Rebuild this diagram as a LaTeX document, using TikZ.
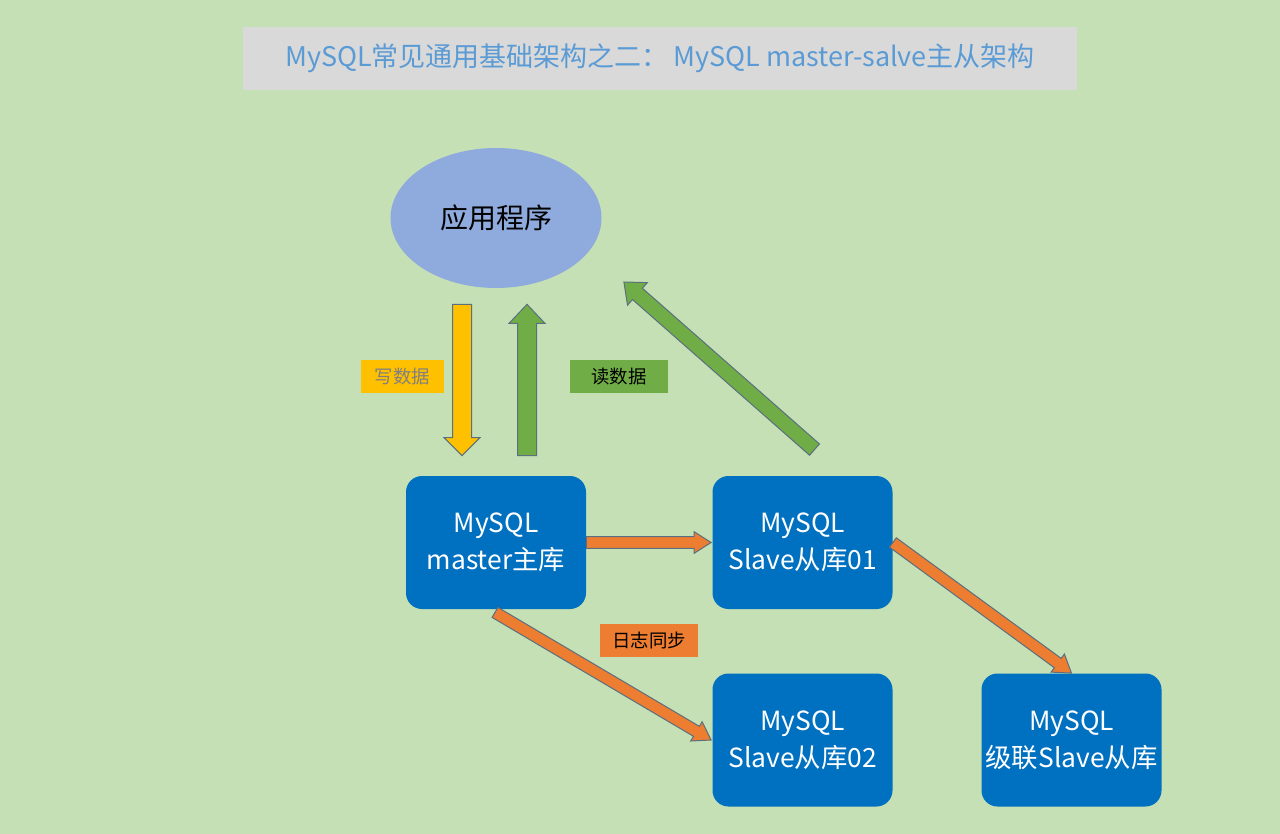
\documentclass[tikz,border=0pt]{standalone}
\usepackage{fontspec}
\setmainfont{Noto Sans CJK SC}
\usetikzlibrary{calc,shapes.geometric}

\definecolor{fundo}{HTML}{C5E0B4}
\definecolor{faixa}{HTML}{D9D9D9}
\definecolor{titulo}{HTML}{5B9BD5}
\definecolor{elipse}{HTML}{8FAADC}
\definecolor{caixa}{HTML}{0070C0}
\definecolor{laranja}{HTML}{ED7D31}
\definecolor{verde}{HTML}{70AD47}
\definecolor{amarelo}{HTML}{FFC000}
\definecolor{contorno}{HTML}{5A6F7F}

% block arrow: fill, start, end, shaft half-width, head half-width, head length
\newcommand{\seta}[6]{%
  \coordinate (base) at ($#3!#6!#2$);
  \filldraw[fill=#1, draw=contorno, line width=0.5pt, line join=miter]
    ($#2!#4!90:#3$) -- ($(base)!#4!90:#3$) -- ($(base)!#5!90:#3$) -- #3
    -- ($(base)!#5!-90:#3$) -- ($(base)!#4!-90:#3$) -- ($#2!#4!-90:#3$) -- cycle;
}

\tikzset{
  banco/.style={fill=caixa, text=white, rounded corners=8pt, minimum width=90pt,
    minimum height=66.5pt, align=center, inner sep=0pt,
    font=\fontsize{13.2}{18.5}\selectfont},
  rotulo/.style={minimum width=#1, minimum height=16.5pt, inner sep=0pt,
    font=\fontsize{9.2}{11}\selectfont}
}

\begin{document}
\begin{tikzpicture}[x=0.5pt, y=-0.5pt]
  \fill[fundo] (0,0) rectangle (1280,834);
  \useasboundingbox (0,0) rectangle (1280,834);

  % title
  \node[fill=faixa, minimum width=417pt, minimum height=31.5pt, inner sep=0pt,
    text=titulo, font=\fontsize{13.5}{15}\selectfont] (title) at (660,58.5)
    {MySQL常见通用基础架构之二：\,MySQL master-salve主从架构};

  % nodes
  \node[ellipse, fill=elipse, minimum width=105.5pt, minimum height=70pt,
    inner sep=0pt, font=\fontsize{14}{16}\selectfont] (app) at (496,218) {应用程序};
  \node[banco] (master) at (496,542.5) {MySQL\\master主库};
  \node[banco] (slave1) at (802.5,542.5) {MySQL\\Slave从库01};
  \node[banco] (slave2) at (802.5,740) {MySQL\\Slave从库02};
  \node[banco] (cascata) at (1071.5,740) {MySQL\\级联Slave从库};

  % labels
  \node[rotulo=41.5pt, fill=amarelo, text=gray] (escrita) at (402.5,376.5) {写数据};
  \node[rotulo=49pt, fill=verde, text=black] (leitura) at (619,376.5) {读数据};
  \node[rotulo=49pt, fill=laranja, text=black] (sincro) at (649,640.5) {日志同步};

  % arrows
  \seta{amarelo}{($(app.south)+(-34,16)$)}{($(master.north)+(-34,-20)$)}{4.75pt}{9pt}{9pt}
  \seta{verde}{($(master.north)+(31,-20)$)}{($(app.south)+(31,16)$)}{4.75pt}{9pt}{9.5pt}
  \seta{verde}{($(slave1.north)+(12,-26)$)}{($(app.east)+(22,64)$)}{3.75pt}{7.5pt}{9pt}
  \seta{laranja}{(master.east)}{($(slave1.west)+(-1,0)$)}{2.9pt}{5.4pt}{8.5pt}
  \seta{laranja}{($(master.south)+(-1,3)$)}{($(slave2.west)+(-1,0)$)}{2.9pt}{5.6pt}{8.5pt}
  \seta{laranja}{(slave1.east)}{(cascata.north)}{2.9pt}{5.6pt}{8.5pt}
\end{tikzpicture}
\end{document}
